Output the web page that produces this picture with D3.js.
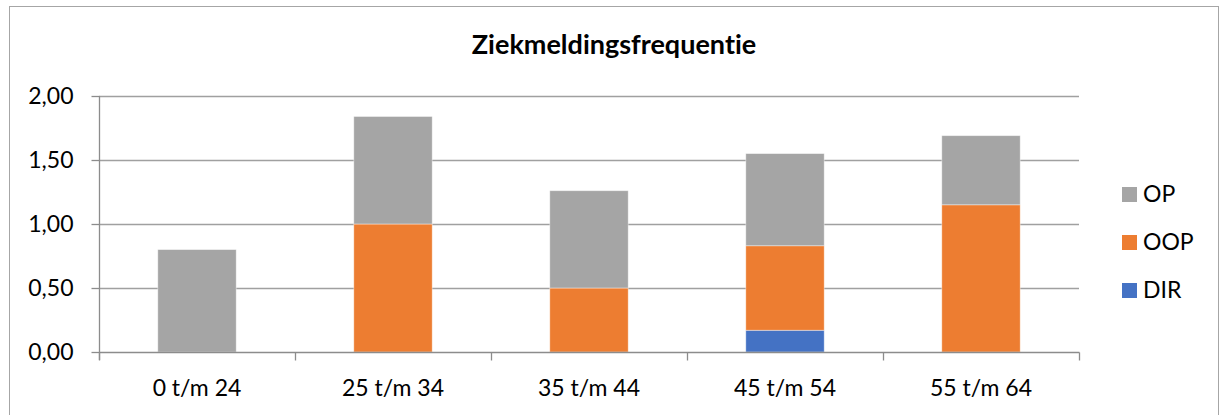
<!DOCTYPE html>
<html>
<head>
<meta charset="utf-8">
<script src="https://cdn.jsdelivr.net/npm/d3@7"></script>
<style>
  html, body { margin: 0; padding: 0; background: #fff; }
  svg { display: block; font-family: Lato, "Open Sans", sans-serif; font-variant-ligatures: none; }
</style>
</head>
<body>
<svg id="chart" width="1224" height="415"></svg>
<script>
const title = "Ziekmeldingsfrequentie";
const categories = ["0 t/m 24", "25 t/m 34", "35 t/m 44", "45 t/m 54", "55 t/m 64"];
const seriesNames = ["DIR", "OOP", "OP"];
const dirValues = [0, 0, 0, 0.17, 0];
const oopValues = [0, 1.00, 0.50, 0.66, 1.15];
const opValues = [0.80, 0.84, 0.76, 0.72, 0.54];
const yTicks = [0, 0.5, 1.0, 1.5, 2.0];
const colors = { DIR: "#4472c4", OOP: "#ed7d31", OP: "#a5a5a5" };

const svg = d3.select("#chart");
const W = 1224, H = 415;
const plot = { left: 99, right: 1079, top: 96, bottom: 352 };

// outer border
svg.append("rect").attr("x", 9.5).attr("y", 6.5).attr("width", 1209).attr("height", 420)
  .attr("fill", "#fff").attr("stroke", "#a6a6a6").attr("stroke-width", 1);

svg.append("text").attr("x", 614).attr("y", 54).attr("text-anchor", "middle")
  .attr("font-weight", "bold").attr("font-size", 27).attr("fill", "#000").text(title);

const x = d3.scaleBand().domain(categories).range([plot.left, plot.right])
  .paddingInner(0.6).paddingOuter(0.3);
const xOuter = d3.scaleBand().domain(categories).range([plot.left, plot.right]).padding(0);
const y = d3.scaleLinear().domain([0, 2]).range([plot.bottom, plot.top]);

// gridlines
svg.append("g").selectAll("line").data(yTicks.filter(d => d > 0)).join("line")
  .attr("x1", plot.left).attr("x2", plot.right)
  .attr("y1", d => Math.round(y(d)) + 0.5).attr("y2", d => Math.round(y(d)) + 0.5)
  .attr("stroke", "#a0a0a0").attr("stroke-width", 1.3);

// y axis
const yAxis = d3.axisLeft(y).tickValues(yTicks).tickSize(8).tickPadding(18)
  .tickFormat(d => d3.format(".2f")(d).replace(".", ","));
const gy = svg.append("g").attr("transform", `translate(${plot.left + 0.5},0)`).call(yAxis);
gy.select(".domain").remove();
gy.selectAll(".tick line").attr("stroke", "#8c8c8c").attr("stroke-width", 1.3);
gy.selectAll(".tick text").attr("font-size", 23).attr("fill", "#000")
  .attr("font-family", "Lato, sans-serif");
svg.append("line").attr("x1", plot.left + 0.5).attr("x2", plot.left + 0.5)
  .attr("y1", plot.top).attr("y2", plot.bottom + 8)
  .attr("stroke", "#8c8c8c").attr("stroke-width", 1.3);

// stacked data
const rows = categories.map((c, i) => ({ cat: c, DIR: dirValues[i], OOP: oopValues[i], OP: opValues[i] }));
const stacked = d3.stack().keys(seriesNames)(rows);

svg.append("g").selectAll("g").data(stacked).join("g")
  .attr("fill", d => colors[d.key])
  .selectAll("rect").data(d => d).join("rect")
  .attr("x", d => x(d.data.cat))
  .attr("width", x.bandwidth())
  .attr("y", d => y(d[1]))
  .attr("height", d => y(d[0]) - y(d[1]))
  .attr("stroke", "#ffffff").attr("stroke-opacity", 0.5).attr("stroke-width", 0.8);

// x axis
const gx = svg.append("g").attr("transform", `translate(0,${plot.bottom + 0.5})`);
gx.append("line").attr("x1", plot.left).attr("x2", plot.right + 0.5)
  .attr("stroke", "#8c8c8c").attr("stroke-width", 1.3);
const boundaries = categories.map(c => xOuter(c)).concat([plot.right]);
gx.selectAll("line.tk").data(boundaries).join("line").attr("class", "tk")
  .attr("x1", d => Math.round(d) + 0.5).attr("x2", d => Math.round(d) + 0.5)
  .attr("y1", 0).attr("y2", 8).attr("stroke", "#8c8c8c").attr("stroke-width", 1.3);
gx.selectAll("text").data(categories).join("text")
  .attr("x", d => xOuter(d) + xOuter.bandwidth() / 2).attr("y", 43)
  .attr("text-anchor", "middle").attr("font-size", 23).attr("fill", "#000").text(d => d);

// legend
const legendItems = ["OP", "OOP", "DIR"];
const lg = svg.append("g");
legendItems.forEach((k, i) => {
  const yy = 187 + i * 48;
  lg.append("rect").attr("x", 1122).attr("y", yy).attr("width", 15).attr("height", 15).attr("fill", colors[k]);
  lg.append("text").attr("x", 1143).attr("y", yy + 15).attr("font-size", 23).attr("fill", "#000").text(k);
});
</script>
</body>
</html>
